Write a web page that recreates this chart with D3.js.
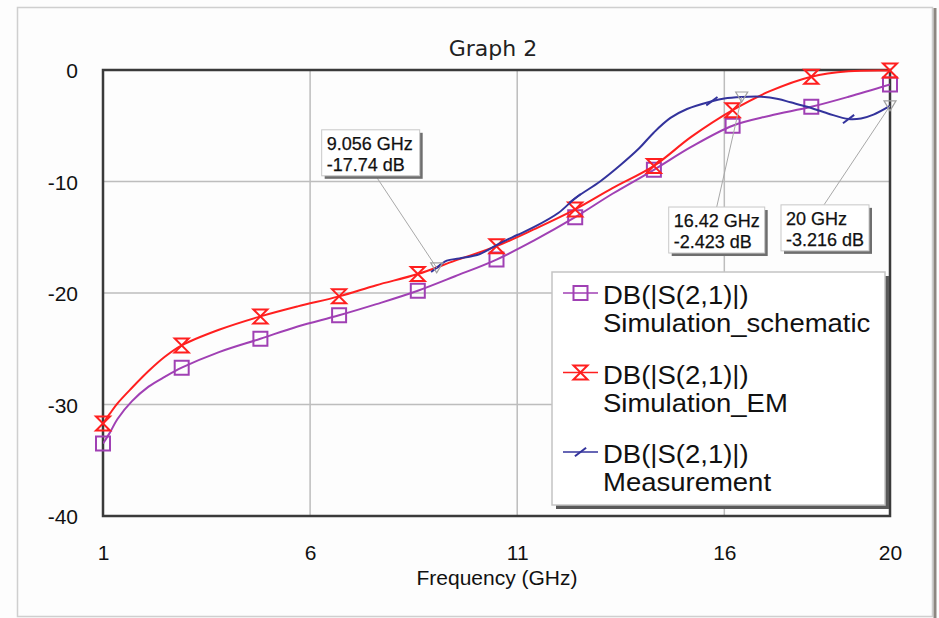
<!DOCTYPE html>
<html><head><meta charset="utf-8">
<script src="https://cdn.jsdelivr.net/npm/d3@7"></script>
<style>html,body{margin:0;padding:0;background:#fff;}svg{display:block;}</style>
</head><body><svg id="chart" width="939" height="618"></svg>
<script>
// ---------- DATA ----------
const simFreq = [1, 1.17, 1.35, 1.7, 2.1, 2.5, 2.9, 3.8, 4.8, 5.7, 6.7, 7.6, 8.6, 9.5, 10.5, 11.4, 12.4, 13.3, 14.3, 15.2, 16.2, 17.1, 18.1, 19.0, 20];
const schematicDb = [-33.5, -32.5, -31.3, -29.7, -28.4, -27.5, -26.7, -25.3, -24.1, -23.0, -22.0, -21.0, -19.8, -18.5, -17.0, -15.3, -13.2, -11.1, -8.95, -6.9, -5.0, -4.1, -3.3, -2.4, -1.3];
const emDb = [-31.7, -30.8, -29.9, -28.5, -27.0, -25.7, -24.7, -23.3, -22.1, -21.2, -20.3, -19.3, -18.3, -17.1, -15.8, -14.3, -12.5, -10.6, -8.6, -6.0, -3.6, -1.9, -0.6, -0.12, -0.05];
const simMarkerFreq = [1, 2.9, 4.8, 6.7, 8.6, 10.5, 12.4, 14.3, 16.2, 18.1, 20];
const measFreq = [9.056, 9.3, 9.6, 10.1, 10.6, 11.0, 11.4, 12.0, 12.4, 13.0, 13.5, 13.95, 14.3, 14.7, 15.1, 15.7, 16.0, 16.42, 16.9, 17.3, 17.6, 18.0, 18.5, 19.0, 19.3, 19.6, 20];
const measDb = [-17.74, -17.1, -16.9, -16.5, -15.5, -14.8, -14.1, -12.8, -11.5, -10.0, -8.5, -7.0, -5.6, -4.3, -3.5, -2.8, -2.55, -2.423, -2.4, -2.6, -2.9, -3.3, -3.9, -4.4, -4.35, -4.0, -3.216];
const measMarkerFreq = [9.056, 12.4, 15.7, 19.0];
const xTicks = [1, 6, 11, 16, 20];
const yTicks = [0, -10, -20, -30, -40];
const markerFreq = [9.056, 16.42, 20];
const markerDb = [-17.74, -2.423, -3.216];
const markerLabels = [["9.056 GHz", "-17.74 dB"], ["16.42 GHz", "-2.423 dB"], ["20 GHz", "-3.216 dB"]];
const seriesNames = ["Simulation_schematic", "Simulation_EM", "Measurement"];
const seriesTitle = "DB(|S(2,1)|)";
const chartTitle = "Graph 2";
const xLabel = "Frequency (GHz)";

// ---------- LAYOUT ----------
const svg = d3.select("#chart");
const L = 103, R = 890, T = 70, B = 516;
const x = d3.scaleLinear().domain([1, 20]).range([L, R]);
const y = d3.scaleLinear().domain([-40, 0]).range([B, T]);
const colors = ["#a040b4", "#ff1f1f", "#33339c"];
const AF = "'Liberation Sans', Arial, sans-serif";

svg.append("rect").attr("width", 939).attr("height", 618).attr("fill", "#fdfdfd");
// outer frame
svg.append("rect").attr("x", 17.5).attr("y", 7.5).attr("width", 915).attr("height", 609)
  .attr("fill", "none").attr("stroke", "#cfcfcf").attr("stroke-width", 1.5);
svg.append("line").attr("x1", 935).attr("x2", 935).attr("y1", 8).attr("y2", 618)
  .attr("stroke", "#8d8781").attr("stroke-width", 3);

// title
svg.append("text").attr("x", 493).attr("y", 56).attr("text-anchor", "middle")
  .attr("font-family", "'DejaVu Sans', Verdana, sans-serif").attr("font-size", 22).attr("fill", "#222")
  .text(chartTitle);

// grid
const grid = svg.append("g");
grid.selectAll("line.v").data(xTicks.filter(d => d > 1 && d < 20)).join("line")
  .attr("x1", d => x(d)).attr("x2", d => x(d)).attr("y1", T).attr("y2", B)
  .attr("stroke", "#bdbdbd").attr("stroke-width", 1.5);
grid.selectAll("line.h").data(yTicks.filter(d => d < 0 && d > -40)).join("line")
  .attr("x1", L).attr("x2", R).attr("y1", d => y(d)).attr("y2", d => y(d))
  .attr("stroke", "#bdbdbd").attr("stroke-width", 1.5);

// axes via d3 axis generators (labels only)
const fmt = d => String(d);
const xAxis = svg.append("g").attr("transform", `translate(0,${B})`)
  .call(d3.axisBottom(x).tickValues(xTicks).tickSize(0).tickPadding(27).tickFormat(fmt));
xAxis.select(".domain").remove();
xAxis.selectAll("text").attr("font-family", AF).attr("font-size", 21).attr("fill", "#111")
  .attr("dy", "0").attr("y", 44);
const yAxis = svg.append("g").attr("transform", `translate(${L},0)`)
  .call(d3.axisLeft(y).tickValues(yTicks).tickSize(0).tickPadding(25).tickFormat(fmt));
yAxis.select(".domain").remove();
yAxis.selectAll("text").attr("font-family", AF).attr("font-size", 21).attr("fill", "#111")
  .attr("dy", "0.36em");

svg.append("text").attr("x", 497).attr("y", 585).attr("text-anchor", "middle")
  .attr("font-family", AF).attr("font-size", 21).attr("fill", "#111").text(xLabel);

// plot frame
svg.append("rect").attr("x", L).attr("y", T).attr("width", R - L).attr("height", B - T)
  .attr("fill", "none").attr("stroke", "#3a3a3a").attr("stroke-width", 2.5);

// clip
svg.append("clipPath").attr("id", "clip").append("rect")
  .attr("x", L).attr("y", T - 1).attr("width", R - L).attr("height", B - T + 2);

// marker shapes
function sqPath(s) { return `M${-s},${-s}H${s}V${s}H${-s}Z`; }
function hourPath(s) { return `M${-s},${-s}H${s}L${-s},${s}H${s}Z`; }
function slashPath(s) { return `M${-s*0.8},${s*0.6}L${s*0.8},${-s*0.6}`; }
const shapes = [sqPath(7), hourPath(7), slashPath(7)];

const simSeries = [schematicDb, emDb];
const lineGen = d3.line().x(d => x(d[0])).y(d => y(d[1])).curve(d3.curveCatmullRom.alpha(0.5));

simSeries.forEach((vals, i) => {
  const pts = simFreq.map((f, k) => [f, vals[k]]);
  svg.append("path").attr("clip-path", "url(#clip)").datum(pts)
    .attr("d", lineGen)
    .attr("fill", "none").attr("stroke", colors[i]).attr("stroke-width", 2);
  const mk = pts.filter(p => simMarkerFreq.includes(p[0]));
  svg.append("g").selectAll("path").data(mk).join("path")
    .attr("transform", d => `translate(${x(d[0])},${y(d[1])})`)
    .attr("d", shapes[i]).attr("fill", "none").attr("stroke", colors[i]).attr("stroke-width", 2);
});

const measPts = measFreq.map((f, k) => [f, measDb[k]]);
svg.append("path").datum(measPts)
  .attr("d", lineGen)
  .attr("fill", "none").attr("stroke", colors[2]).attr("stroke-width", 2);
svg.append("g").selectAll("path").data(measPts.filter(p => measMarkerFreq.includes(p[0]))).join("path")
  .attr("transform", d => `translate(${x(d[0])},${y(d[1])})`)
  .attr("d", shapes[2]).attr("fill", "none").attr("stroke", colors[2]).attr("stroke-width", 2);

// annotation markers + boxes
const boxOffsets = [[-115, -138], [-73, 110], [-109, 99]]; // box top-left relative to point
const anchorOffsets = [[54, 0], [48, 0], [43, 0]];
const boxW = [98, 96, 88], boxH = 46;
markerFreq.forEach((f, i) => {
  const px = x(f), py = y(markerDb[i]);
  const bx = px + boxOffsets[i][0], by = py + boxOffsets[i][1];
  const ay = by < py ? by + boxH : by;
  svg.append("line").attr("x1", bx + anchorOffsets[i][0]).attr("y1", ay)
    .attr("x2", px).attr("y2", py).attr("stroke", "#a8a8a8").attr("stroke-width", 1);
  svg.append("path").attr("transform", `translate(${px},${py})`)
    .attr("d", "M-6,-5H6L0,5Z").attr("fill", "none").attr("stroke", "#a0a0a0").attr("stroke-width", 1.2);
  svg.append("rect").attr("x", bx + 3).attr("y", by + 3).attr("width", boxW[i]).attr("height", boxH)
    .attr("fill", "#6e6e6e");
  svg.append("rect").attr("x", bx).attr("y", by).attr("width", boxW[i]).attr("height", boxH)
    .attr("fill", "#fff").attr("stroke", "#c8c8c8").attr("stroke-width", 1);
  markerLabels[i].forEach((t, j) => {
    svg.append("text").attr("x", bx + 5).attr("y", by + 20 + j * 21)
      .attr("font-family", AF).attr("font-size", 18).attr("fill", "#111")
      .attr("stroke", "#111").attr("stroke-width", 0.25).text(t);
  });
});

// legend
const lg = svg.append("g");
const lx = 552, ly = 272, lw = 333, lh = 233;
lg.append("rect").attr("x", lx + 4).attr("y", ly + 4).attr("width", lw).attr("height", lh).attr("fill", "#5a5a5a");
lg.append("rect").attr("x", lx).attr("y", ly).attr("width", lw).attr("height", lh)
  .attr("fill", "#fff").attr("stroke", "#c4c4c4").attr("stroke-width", 1.5);
seriesNames.forEach((name, i) => {
  const cy = 293 + i * 79.5;
  lg.append("line").attr("x1", 563).attr("x2", 598).attr("y1", cy).attr("y2", cy)
    .attr("stroke", colors[i]).attr("stroke-width", 1.5);
  lg.append("path").attr("transform", `translate(580.5,${cy})`).attr("d", shapes[i])
    .attr("fill", "none").attr("stroke", colors[i]).attr("stroke-width", 2);
  [seriesTitle, name].forEach((t, j) => {
    lg.append("text").attr("transform", `translate(603,${cy + 11 + j * 28}) scale(1.1,1)`)
      .attr("font-family", AF).attr("font-size", 25).attr("fill", "#111").text(t);
  });
});
</script></body></html>
